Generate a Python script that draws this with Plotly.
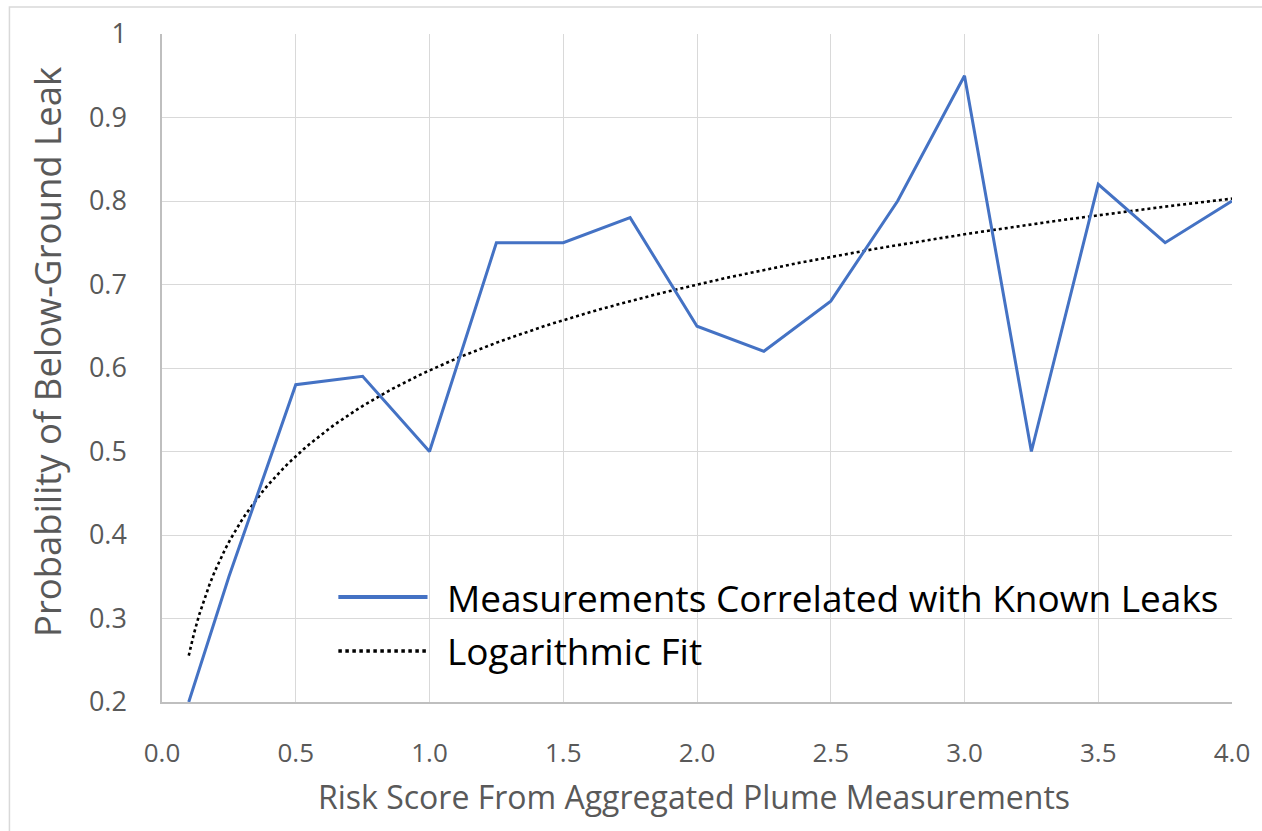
import numpy as np
import plotly.graph_objects as go

# Risk score buckets and observed probability of a below-ground leak
risk_score = [0.1, 0.25, 0.5, 0.75, 1.0, 1.25, 1.5, 1.75, 2.0, 2.25,
              2.5, 2.75, 3.0, 3.25, 3.5, 3.75, 4.0]
leak_probability = [0.20, 0.35, 0.58, 0.59, 0.50, 0.75, 0.75, 0.78, 0.65, 0.62,
                    0.68, 0.80, 0.95, 0.50, 0.82, 0.75, 0.80]

x_ticks = [0.0, 0.5, 1.0, 1.5, 2.0, 2.5, 3.0, 3.5, 4.0]
x_tick_labels = ["0.0", "0.5", "1.0", "1.5", "2.0", "2.5", "3.0", "3.5", "4.0"]
y_ticks = [0.2, 0.3, 0.4, 0.5, 0.6, 0.7, 0.8, 0.9, 1.0]
y_tick_labels = ["0.2", "0.3", "0.4", "0.5", "0.6", "0.7", "0.8", "0.9", "1"]

series_name = "Measurements Correlated with Known Leaks"
fit_name = "Logarithmic Fit"

# Least-squares trendline y = a*ln(x) + b
a, b = np.polyfit(np.log(risk_score), leak_probability, 1)
fit_x = np.linspace(min(risk_score), max(risk_score), 200)
fit_y = a * np.log(fit_x) + b

FONT = "Open Sans"
GREY = "#595959"
BLUE = "#4472C4"

W, H = 1262, 831
L, R, T, B = 162, 20, 34, 129
PW, PH = W - L - R, H - T - B


def px(xp):
    return (xp - L) / PW


def py(yp):
    return (H - B - yp) / PH


fig = go.Figure()
fig.add_trace(go.Scatter(x=fit_x, y=fit_y, mode="lines", name=fit_name,
                         line=dict(color="black", width=2.6, dash="dot"),
                         showlegend=False))
fig.add_trace(go.Scatter(x=risk_score, y=leak_probability, mode="lines",
                         name=series_name, line=dict(color=BLUE, width=3),
                         showlegend=False))

shapes = [
    # outer chart frame
    dict(type="rect", xref="paper", yref="paper",
         x0=px(8), x1=px(1300), y0=py(880), y1=py(7),
         line=dict(color="#d9d9d9", width=1.5), fillcolor="rgba(0,0,0,0)",
         layer="below"),
    # legend keys
    dict(type="line", xref="paper", yref="paper",
         x0=px(340), x1=px(430), y0=py(597), y1=py(597),
         line=dict(color=BLUE, width=4)),
    dict(type="line", xref="paper", yref="paper",
         x0=px(340), x1=px(430), y0=py(651), y1=py(651),
         line=dict(color="black", width=3.5, dash="dot")),
]

annotations = [
    dict(text=series_name, xref="paper", yref="paper", x=px(448), y=py(597),
         xanchor="left", yanchor="middle", showarrow=False,
         font=dict(family=FONT, size=37, color="black")),
    dict(text=fit_name, xref="paper", yref="paper", x=px(448), y=py(650),
         xanchor="left", yanchor="middle", showarrow=False,
         font=dict(family=FONT, size=37, color="black")),
    dict(text="Risk Score From Aggregated Plume Measurements", xref="paper",
         yref="paper", x=px(699), y=py(796), xanchor="center", yanchor="middle",
         showarrow=False, font=dict(family=FONT, size=32, color=GREY)),
    dict(text="Probability of Below-Ground Leak", xref="paper", yref="paper",
         x=px(46), y=py(352), xanchor="center", yanchor="middle", textangle=-90,
         showarrow=False, font=dict(family=FONT, size=36.5, color=GREY)),
]

fig.update_layout(
    width=W, height=H,
    margin=dict(l=L, r=R, t=T, b=B),
    paper_bgcolor="white", plot_bgcolor="white",
    shapes=shapes, annotations=annotations,
    showlegend=False,
    font=dict(family=FONT, color=GREY),
)
fig.update_xaxes(range=[0, 4], tickvals=x_ticks, ticktext=x_tick_labels,
                 showgrid=True, gridcolor="#d9d9d9", gridwidth=1.3,
                 showline=True, linecolor="#bfbfbf", linewidth=1.5,
                 zeroline=False, tickfont=dict(family=FONT, size=26, color=GREY),
                 ticklabelstandoff=27)
fig.update_yaxes(range=[0.2, 1.0], tickvals=y_ticks, ticktext=y_tick_labels,
                 showgrid=True, gridcolor="#d9d9d9", gridwidth=1.3,
                 showline=True, linecolor="#bfbfbf", linewidth=1.5,
                 zeroline=False, tickfont=dict(family=FONT, size=27, color=GREY),
                 ticklabelstandoff=28)

fig.write_html("out.html")
